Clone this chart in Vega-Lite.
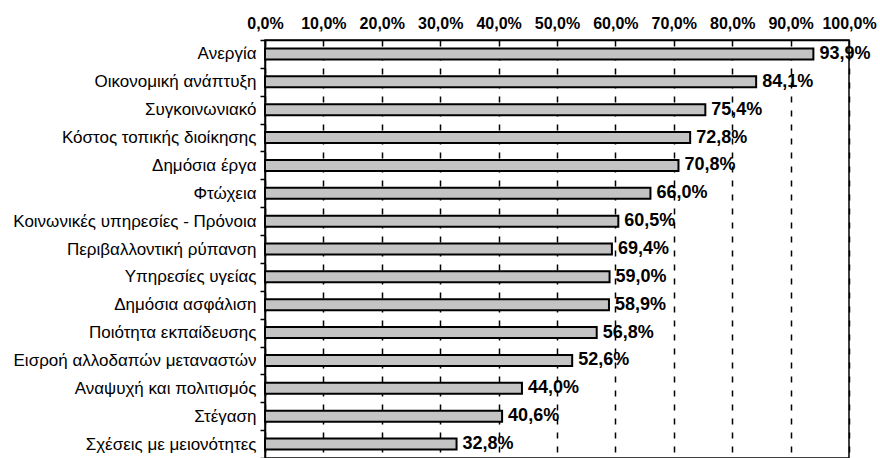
{
  "$schema": "https://vega.github.io/schema/vega-lite/v6.json",
  "autosize": "none",
  "width": 584,
  "height": 418,
  "padding": {"left": 265, "top": 40, "right": 31, "bottom": 0},
  "background": "white",
  "config": {
    "font": "Liberation Sans",
    "view": {"stroke": "black", "strokeWidth": 1.5}
  },
  "data": {
    "values": [
      {"topic": "Ανεργία", "value": 93.9, "label": "93,9%"},
      {"topic": "Οικονομική ανάπτυξη", "value": 84.1, "label": "84,1%"},
      {"topic": "Συγκοινωνιακό", "value": 75.4, "label": "75,4%"},
      {"topic": "Κόστος τοπικής διοίκησης", "value": 72.8, "label": "72,8%"},
      {"topic": "Δημόσια έργα", "value": 70.8, "label": "70,8%"},
      {"topic": "Φτώχεια", "value": 66.0, "label": "66,0%"},
      {"topic": "Κοινωνικές υπηρεσίες - Πρόνοια", "value": 60.5, "label": "60,5%"},
      {"topic": "Περιβαλλοντική ρύπανση", "value": 59.4, "label": "69,4%"},
      {"topic": "Υπηρεσίες υγείας", "value": 59.0, "label": "59,0%"},
      {"topic": "Δημόσια ασφάλιση", "value": 58.9, "label": "58,9%"},
      {"topic": "Ποιότητα εκπαίδευσης", "value": 56.8, "label": "56,8%"},
      {"topic": "Εισροή αλλοδαπών μεταναστών", "value": 52.6, "label": "52,6%"},
      {"topic": "Αναψυχή και πολιτισμός", "value": 44.0, "label": "44,0%"},
      {"topic": "Στέγαση", "value": 40.6, "label": "40,6%"},
      {"topic": "Σχέσεις με μειονότητες", "value": 32.8, "label": "32,8%"}
    ]
  },
  "encoding": {
    "y": {
      "field": "topic",
      "type": "nominal",
      "sort": null,
      "title": null,
      "scale": {"paddingInner": 0, "paddingOuter": 0},
      "axis": {
        "labelFontSize": 17,
        "labelColor": "black",
        "labelPadding": 4,
        "labelLimit": 0,
        "tickBand": "extent",
        "tickSize": 5,
        "tickWidth": 1.5,
        "tickColor": "black",
        "domainColor": "black",
        "domainWidth": 1.5,
        "grid": false
      }
    },
    "x": {
      "field": "value",
      "type": "quantitative",
      "title": null,
      "scale": {"domain": [0, 100], "nice": false},
      "axis": {
        "orient": "top",
        "values": [0, 10, 20, 30, 40, 50, 60, 70, 80, 90, 100],
        "labelExpr": "replace(format(datum.value, '.1f'), '.', ',') + '%'",
        "labelFontSize": 16,
        "labelFontWeight": "bold",
        "labelColor": "black",
        "labelPadding": 9,
        "labelOverlap": false,
        "labelFlush": false,
        "tickSize": 0,
        "domainColor": "black",
        "domainWidth": 1.5,
        "grid": true,
        "gridColor": "black",
        "gridWidth": 1.5,
        "gridDash": [6, 8],
        "gridOpacity": 1
      }
    }
  },
  "layer": [
    {
      "mark": {"type": "bar", "size": 11, "fill": "#c4c4c4", "stroke": "black", "strokeWidth": 2}
    },
    {
      "mark": {"type": "text", "align": "left", "baseline": "middle", "dx": 6, "fontSize": 18, "fontWeight": "bold", "color": "black"},
      "encoding": {"text": {"field": "label"}}
    }
  ]
}
